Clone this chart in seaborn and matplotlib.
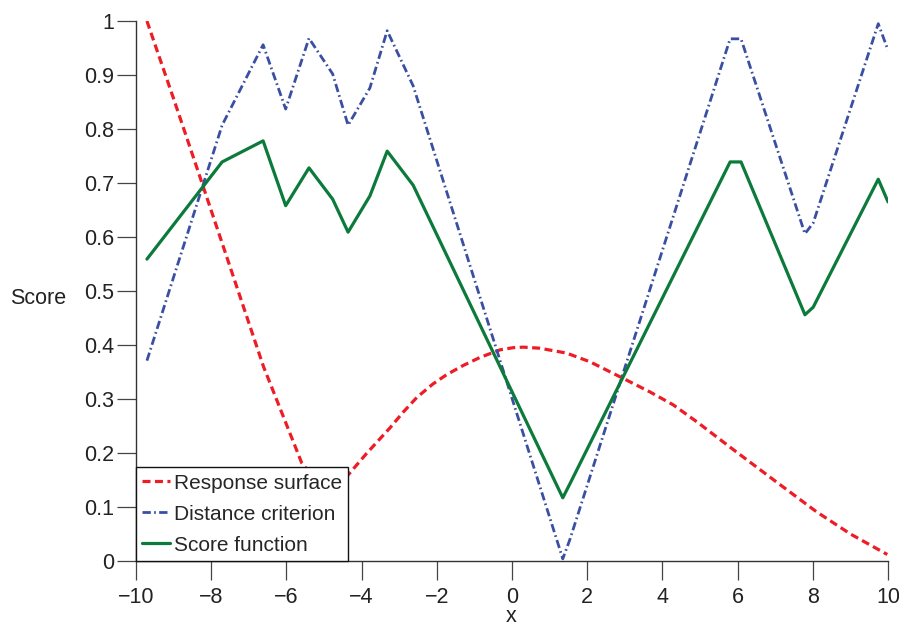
import numpy as np
import pandas as pd
import matplotlib
matplotlib.use("Agg")
import matplotlib.pyplot as plt
import seaborn as sns

# Response surface (smooth model prediction)
resp_x = [-9.71, -9.0, -8.39, -7.5, -6.61, -5.59, -4.85, -4.40, -3.87, -3.24,
          -2.89, -2.53, -2.10, -1.74, -1.30, -0.85, -0.32, 0.03, 0.30, 0.74,
          1.45, 2.07, 2.96, 3.67, 4.29, 4.91, 5.89, 7.0, 8.10, 9.0, 9.98]
resp_y = [1.0, 0.856, 0.730, 0.545, 0.360, 0.181, 0.120, 0.156, 0.199, 0.247,
          0.276, 0.303, 0.328, 0.345, 0.362, 0.377, 0.391, 0.395, 0.396, 0.394,
          0.385, 0.369, 0.338, 0.313, 0.289, 0.258, 0.206, 0.148, 0.091, 0.050, 0.012]

# Distance criterion and score function share the same evaluation points
grid_x = [-9.71, -7.71, -6.62, -6.02, -5.40, -4.77, -4.36, -3.78, -3.32, -2.63,
          1.35, 1.54, 5.80, 6.09, 7.79, 8.01, 9.74, 10.0]
dist_y = [0.371, 0.807, 0.956, 0.837, 0.968, 0.902, 0.807, 0.876, 0.982, 0.880,
          0.004, 0.040, 0.967, 0.967, 0.606, 0.626, 0.995, 0.946]
score_y = [0.559, 0.739, 0.778, 0.658, 0.728, 0.670, 0.609, 0.676, 0.759, 0.696,
           0.117, 0.143, 0.739, 0.739, 0.456, 0.470, 0.707, 0.665]

x_ticks = [-10, -8, -6, -4, -2, 0, 2, 4, 6, 8, 10]
x_tick_labels = ["\u221210", "\u22128", "\u22126", "\u22124", "\u22122",
                 "0", "2", "4", "6", "8", "10"]
y_ticks = [0, 0.1, 0.2, 0.3, 0.4, 0.5, 0.6, 0.7, 0.8, 0.9, 1.0]
y_tick_labels = ["0", "0.1", "0.2", "0.3", "0.4", "0.5", "0.6", "0.7", "0.8", "0.9", "1"]

sns.set_theme(style="ticks")
plt.rcParams["font.family"] = ["Liberation Sans", "DejaVu Sans"]

fig = plt.figure(figsize=(8.99, 6.27), dpi=100)
ax = fig.add_axes([0.1513, 0.1053, 0.8365, 0.8612])

red = "#ee1c25"
blue = "#3a4fa3"
green = "#0b7a3b"

sns.lineplot(x=resp_x, y=resp_y, ax=ax, color=red, lw=2.3,
             label="Response surface", estimator=None, sort=False)
sns.lineplot(x=grid_x, y=dist_y, ax=ax, color=blue, lw=2.0,
             label="Distance criterion", estimator=None, sort=False)
sns.lineplot(x=grid_x, y=score_y, ax=ax, color=green, lw=2.3,
             label="Score function", estimator=None, sort=False)

lines = ax.get_lines()
lines[0].set_dashes((2.5, 1.4))
lines[1].set_dashes((3.0, 1.2, 0.6, 1.2))

ax.set_xlim(-10, 10)
ax.set_ylim(0, 1)
ax.set_xticks(x_ticks)
ax.set_xticklabels(x_tick_labels)
ax.set_yticks(y_ticks)
ax.set_yticklabels(y_tick_labels)

for side in ("top", "right"):
    ax.spines[side].set_visible(False)
for side in ("left", "bottom"):
    ax.spines[side].set_color("#333333")
    ax.spines[side].set_linewidth(1.0)

ax.tick_params(axis="both", direction="out", length=13.5, width=0.9,
               color="#444444", labelsize=15.5, labelcolor="#222222")
ax.tick_params(axis="y", pad=2)
ax.tick_params(axis="x", pad=5)

ax.set_xlabel("x", fontsize=15.5, color="#222222", va="baseline")
ax.set_ylabel("Score", fontsize=15.5, color="#222222", rotation=0, ha="center", va="center")
ax.xaxis.set_label_coords(0.499, -0.113)
ax.yaxis.set_label_coords(-0.13, 0.487)

leg = ax.legend(loc="lower left", borderaxespad=0, fontsize=15, frameon=True,
                fancybox=False, handlelength=1.35, handletextpad=0.15,
                labelspacing=0.58, borderpad=0.3)
leg.get_frame().set_edgecolor("#111111")
leg.get_frame().set_linewidth(1.0)
leg.get_frame().set_alpha(1.0)

fig.savefig("out.png", dpi=100)
